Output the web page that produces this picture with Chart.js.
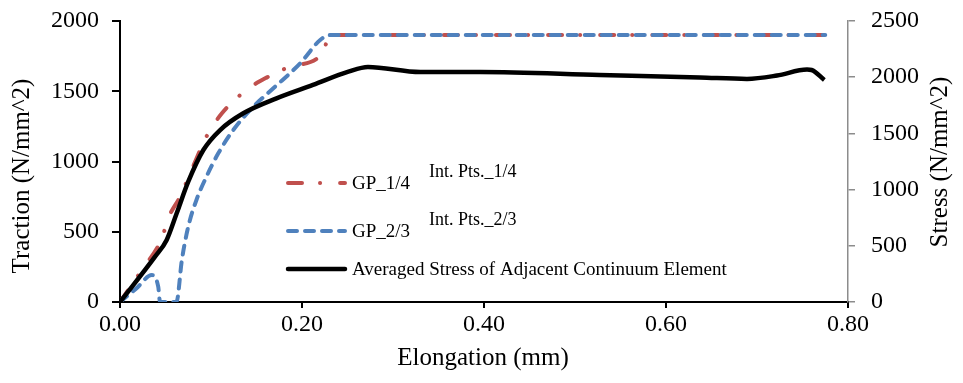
<!DOCTYPE html>
<html><head><meta charset="utf-8">
<script src="https://cdn.jsdelivr.net/npm/chart.js@4/dist/chart.umd.min.js"></script>
<style>html,body{margin:0;padding:0;background:#fff}#wrap{width:963px;height:383px}</style>
</head><body><div id="wrap"><canvas id="c" width="963" height="383"></canvas></div>
<script>
// Elongation (mm) and values
const gp14X = [0, 0.024, 0.046, 0.053, 0.066, 0.081, 0.095, 0.112, 0.139, 0.161, 0.187, 0.222, 0.231, 0.775];
const gp14Y = [0, 228, 453, 596, 750, 975, 1177, 1343, 1509, 1597, 1675, 1765, 1900, 1900];

const gp23X = [0, 0.018, 0.035, 0.042, 0.044, 0.062, 0.068, 0.075, 0.084, 0.095, 0.108, 0.1245, 0.1465, 0.1685, 0.198, 0.22, 0.231, 0.775];
const gp23Y = [0, 97, 192, 109, 0, 0, 299, 536, 726, 892, 1058, 1224, 1390, 1521, 1699, 1865, 1900, 1900];

const avgX = [0, 0.0385, 0.0513, 0.0623, 0.075, 0.0916, 0.110, 0.1355, 0.172, 0.212, 0.251, 0.2725, 0.33, 0.396, 0.527, 0.637, 0.689, 0.722, 0.755, 0.760, 0.774];
const avgY = [0, 403, 552, 789, 1070, 1352, 1530, 1679, 1812, 1931, 2049, 2091, 2046, 2046, 2020, 1998, 1985, 2015, 2068, 2064, 1975];

const xTicks = [0, 0.2, 0.4, 0.6, 0.8];
const tractionTicks = [0, 500, 1000, 1500, 2000];
const stressTicks = [0, 500, 1000, 1500, 2000, 2500];

const labels = {
  x: 'Elongation (mm)', yL: 'Traction (N/mm^2)', yR: 'Stress (N/mm^2)',
  s1: 'GP_1/4', s2: 'GP_2/3', s3: 'Averaged Stress of Adjacent Continuum Element',
  n1: 'Int. Pts._1/4', n2: 'Int. Pts._2/3'
};

const pts = (xs, ys) => xs.map((x, i) => ({x: x, y: ys[i]}));
const FONT = '"Liberation Serif", "Times New Roman", serif';
const RED = '#C0504D', BLUE = '#4F81BD';
const RED_DASH = [14, 18, 0.1, 20];
const BLUE_DASH = [9, 8];

const overlay = {
  id: 'overlay',
  afterDraw(chart) {
    const ctx = chart.ctx;
    ctx.save();
    ctx.fillStyle = '#000';
    ctx.font = '25px ' + FONT;
    ctx.textAlign = 'center'; ctx.textBaseline = 'middle';
    // axis titles
    ctx.fillText(labels.x, 483, 358);
    ctx.save(); ctx.translate(22, 176); ctx.rotate(-Math.PI / 2);
    ctx.fillText(labels.yL, 0, 0); ctx.restore();
    ctx.save(); ctx.translate(940, 162); ctx.rotate(-Math.PI / 2);
    ctx.fillText(labels.yR, 0, 0); ctx.restore();
    // legend
    const items = [
      {t: labels.s1, c: RED, d: RED_DASH, w: 4, y: 183},
      {t: labels.s2, c: BLUE, d: BLUE_DASH, w: 4, y: 231},
      {t: labels.s3, c: '#000', d: [], w: 4.5, y: 269}
    ];
    items.forEach(it => {
      ctx.save();
      ctx.strokeStyle = it.c; ctx.lineWidth = it.w; ctx.lineCap = 'round';
      ctx.setLineDash(it.d);
      ctx.beginPath(); ctx.moveTo(288, it.y); ctx.lineTo(345, it.y); ctx.stroke();
      ctx.restore();
      ctx.font = '19px ' + FONT; ctx.textAlign = 'left'; ctx.fillStyle = '#000';
      ctx.fillText(it.t, 352, it.y + 1);
    });
    ctx.font = '18px ' + FONT; ctx.textAlign = 'left';
    ctx.fillText(labels.n1, 429, 172);
    ctx.fillText(labels.n2, 429, 220);
    ctx.restore();
  }
};

const noPadY = w => s => { s.width = w; s.paddingTop = 0; s.paddingBottom = 0; };

new Chart(document.getElementById('c'), {
  type: 'line',
  data: {
    datasets: [
      {label: labels.s3, data: pts(avgX, avgY), yAxisID: 'y2', borderColor: '#000', borderWidth: 4.5,
       pointRadius: 0, cubicInterpolationMode: 'monotone', order: 0},
      {label: labels.s2, data: pts(gp23X, gp23Y), yAxisID: 'y', borderColor: BLUE, borderWidth: 4,
       borderDash: BLUE_DASH, borderCapStyle: 'round', pointRadius: 0, cubicInterpolationMode: 'monotone', order: 1},
      {label: labels.s1, data: pts(gp14X, gp14Y), yAxisID: 'y', borderColor: RED, borderWidth: 4,
       borderDash: RED_DASH, borderCapStyle: 'round', pointRadius: 0, cubicInterpolationMode: 'monotone', order: 2}
    ]
  },
  options: {
    responsive: false, animation: false, devicePixelRatio: 1,
    layout: {padding: {top: 21, left: 0, right: 0, bottom: 0}},
    plugins: {legend: {display: false}, tooltip: {enabled: false}},
    scales: {
      x: {
        type: 'linear', min: 0, max: 0.8,
        afterBuildTicks: s => { s.ticks = xTicks.map(v => ({value: v})); },
        afterFit: s => { s.height = 81; s.paddingLeft = 0; s.paddingRight = 0; },
        ticks: {callback: v => Number(v).toFixed(2), font: {family: FONT, size: 24}, color: '#000', padding: 2, maxRotation: 0},
        grid: {display: true, drawOnChartArea: false, drawTicks: true, tickLength: 6, color: '#000', lineWidth: 2},
        border: {display: true, color: '#000', width: 2}
      },
      y: {
        position: 'left', min: 0, max: 2000,
        afterBuildTicks: s => { s.ticks = tractionTicks.map(v => ({value: v})); },
        afterFit: noPadY(120),
        ticks: {callback: v => String(v), font: {family: FONT, size: 24}, color: '#000', padding: 13},
        grid: {display: true, drawOnChartArea: false, drawTicks: true, tickLength: 8, color: '#000', lineWidth: 2},
        border: {display: true, color: '#000', width: 2}
      },
      y2: {
        position: 'right', min: 0, max: 2500,
        afterBuildTicks: s => { s.ticks = stressTicks.map(v => ({value: v})); },
        afterFit: noPadY(115),
        ticks: {callback: v => String(v), font: {family: FONT, size: 24}, color: '#000', padding: 16},
        grid: {display: true, drawOnChartArea: false, drawTicks: true, tickLength: 7, color: '#8c8c8c', lineWidth: 1.5},
        border: {display: true, color: '#8c8c8c', width: 1.5}
      }
    }
  },
  plugins: [overlay]
});
</script>
</body></html>
